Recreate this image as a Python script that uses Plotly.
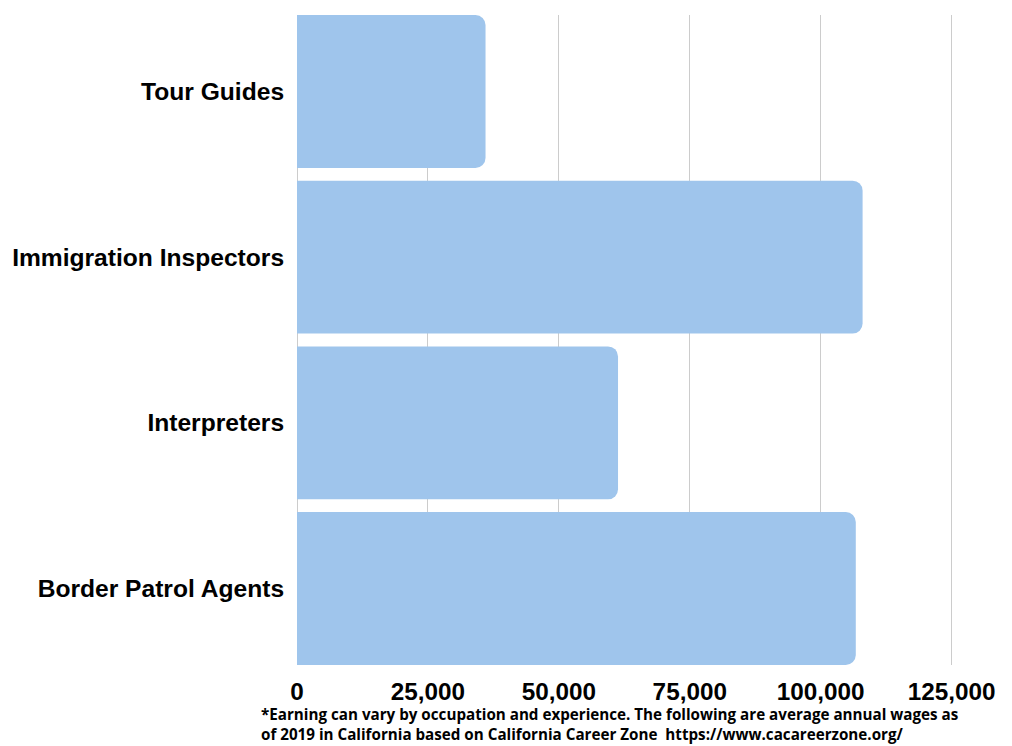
import plotly.graph_objects as go

categories = ["Tour Guides", "Immigration Inspectors", "Interpreters", "Border Patrol Agents"]
wages = [36000, 108000, 61300, 106700]
tick_vals = [0, 25000, 50000, 75000, 100000, 125000]
tick_text = ["0", "25,000", "50,000", "75,000", "100,000", "125,000"]
footnote_lines = [
    "*Earning can vary by occupation and experience. The following are average annual wages as",
    "of 2019 in California based on California Career Zone  https://www.cacareerzone.org/",
]

bar_w = 0.923
W, H = 1004, 738          # page body has an 8px default margin
ML, MR, MT, MB = 289, 8, 7, 81

fig = go.Figure(go.Bar(
    x=wages, y=categories, orientation="h",
    marker=dict(color="#9FC5EC", line=dict(width=0)),
    width=bar_w,
    hoverinfo="skip",
))

fig.update_layout(
    width=W, height=H,
    margin=dict(l=ML, r=MR, t=MT, b=MB, autoexpand=False),
    paper_bgcolor="white", plot_bgcolor="white",
    barcornerradius=10,
    showlegend=False,
    font=dict(family="Liberation Sans, Arial, sans-serif", color="black"),
    xaxis=dict(
        range=[0, 135000],
        tickvals=tick_vals, ticktext=tick_text,
        tickfont=dict(size=24.3, family="Liberation Sans, Arial", weight="bold"),
        showgrid=True, gridcolor="#cccccc", gridwidth=1,
        zeroline=True, zerolinecolor="#cccccc", zerolinewidth=1,
        showline=False,
        ticks="outside", ticklen=5, tickcolor="rgba(0,0,0,0)",
        fixedrange=True,
    ),
    yaxis=dict(
        categoryorder="array", categoryarray=categories,
        range=[len(categories) - 1 + bar_w / 2, -bar_w / 2],
        tickfont=dict(size=24.6, family="Liberation Sans, Arial", weight="bold"),
        showgrid=False, zeroline=False, showline=False,
        ticks="outside", ticklen=7, tickcolor="rgba(0,0,0,0)",
        fixedrange=True,
    ),
    annotations=[dict(
        text="<br>".join(footnote_lines), xref="paper", yref="paper",
        x=(252 - ML) / (W - ML - MR), xanchor="left",
        y=0, yshift=-(H - MB - MT - 650) - 80, yanchor="bottom",
        align="left", showarrow=False, borderpad=0,
        font=dict(size=15.2, family="Open Sans, sans-serif", weight="bold", color="black"),
    )],
)

fig.write_html("out.html")
